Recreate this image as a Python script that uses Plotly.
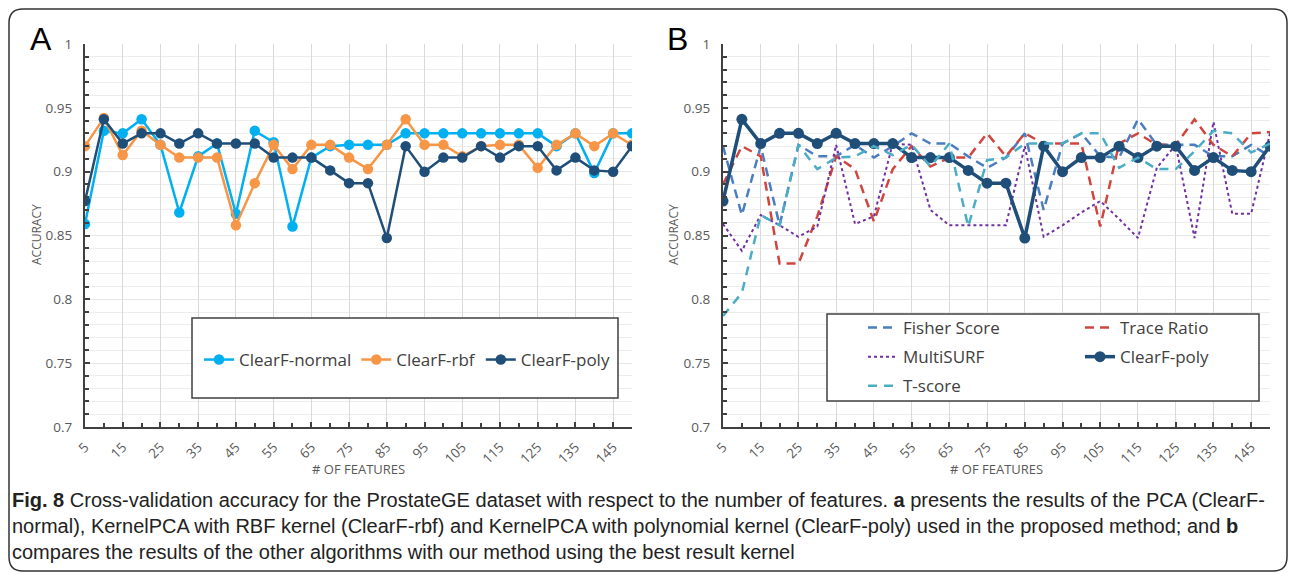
import plotly.graph_objects as go

# ---------------- data ----------------
features = [5, 10, 15, 20, 25, 30, 35, 40, 45, 50, 55, 60, 65, 70, 75,
            80, 85, 90, 95, 100, 105, 110, 115, 120, 125, 130, 135, 140, 145, 150]
tick_vals = [5, 15, 25, 35, 45, 55, 65, 75, 85, 95, 105, 115, 125, 135, 145]
tick_text = ["5", "15", "25", "35", "45", "55", "65", "75", "85", "95",
             "105", "115", "125", "135", "145"]
y_tick_vals = [0.7, 0.75, 0.8, 0.85, 0.9, 0.95, 1.0]
y_tick_text = ["0.7", "0.75", "0.8", "0.85", "0.9", "0.95", "1"]

clearf_normal = [0.859, 0.932, 0.930, 0.941, 0.921, 0.868, 0.912, 0.922, 0.867, 0.932,
                 0.923, 0.857, 0.911, 0.920, 0.921, 0.921, 0.921, 0.930, 0.930, 0.930,
                 0.930, 0.930, 0.930, 0.930, 0.930, 0.920, 0.930, 0.899, 0.930, 0.930]
clearf_rbf = [0.920, 0.942, 0.913, 0.932, 0.921, 0.911, 0.911, 0.911, 0.858, 0.891,
              0.921, 0.902, 0.921, 0.921, 0.911, 0.902, 0.921, 0.941, 0.921, 0.921,
              0.912, 0.920, 0.921, 0.921, 0.903, 0.921, 0.930, 0.920, 0.930, 0.921]
clearf_poly = [0.877, 0.941, 0.922, 0.930, 0.930, 0.922, 0.930, 0.922, 0.922, 0.922,
               0.911, 0.911, 0.911, 0.901, 0.891, 0.891, 0.848, 0.920, 0.900, 0.911,
               0.911, 0.920, 0.911, 0.920, 0.920, 0.901, 0.911, 0.901, 0.900, 0.920]
fisher_score = [0.920, 0.866, 0.920, 0.858, 0.921, 0.912, 0.912, 0.921, 0.911, 0.920,
                0.930, 0.922, 0.922, 0.912, 0.903, 0.911, 0.930, 0.870, 0.922, 0.930,
                0.912, 0.911, 0.941, 0.921, 0.921, 0.921, 0.912, 0.912, 0.921, 0.912]
trace_ratio = [0.890, 0.920, 0.912, 0.828, 0.828, 0.865, 0.912, 0.902, 0.861, 0.902,
               0.920, 0.904, 0.911, 0.911, 0.930, 0.912, 0.930, 0.922, 0.922, 0.922,
               0.857, 0.922, 0.930, 0.921, 0.921, 0.941, 0.921, 0.912, 0.930, 0.931]
multisurf = [0.859, 0.838, 0.866, 0.858, 0.849, 0.857, 0.921, 0.859, 0.865, 0.922,
             0.921, 0.870, 0.858, 0.858, 0.858, 0.858, 0.920, 0.849, 0.858, 0.868,
             0.877, 0.863, 0.848, 0.903, 0.921, 0.848, 0.939, 0.867, 0.867, 0.930]
t_score = [0.787, 0.805, 0.866, 0.858, 0.921, 0.902, 0.911, 0.912, 0.920, 0.913,
           0.921, 0.904, 0.922, 0.857, 0.909, 0.911, 0.922, 0.922, 0.922, 0.930,
           0.930, 0.903, 0.911, 0.902, 0.902, 0.916, 0.932, 0.930, 0.915, 0.922]

caption_lines = [
    "<b>Fig. 8</b> Cross-validation accuracy for the ProstateGE dataset with respect to the number of features. "
    "<b>a</b> presents the results of the PCA (ClearF-",
    "normal), KernelPCA with RBF kernel (ClearF-rbf) and KernelPCA with polynomial kernel (ClearF-poly) "
    "used in the proposed method; and <b>b</b>",
    "compares the results of the other algorithms with our method using the best result kernel",
]

# ---------------- style ----------------
W, H = 1292, 576
FONT = "Open Sans, Noto Sans, sans-serif"
C_NORMAL = "#00b0f0"
C_RBF = "#f79646"
C_POLY = "#1f4e79"
C_FISHER = "#4a7ec0"
C_TRACE = "#d0463f"
C_MULTI = "#7030a0"
C_TSCORE = "#4bacc6"
AX = "#404040"
TXT = "#595959"


def pxx(x):
    return x / W


def pxy(y):
    return 1 - y / H


fig = go.Figure()

# Panel A
for name, vals, col in [("ClearF-normal", clearf_normal, C_NORMAL),
                        ("ClearF-rbf", clearf_rbf, C_RBF),
                        ("ClearF-poly", clearf_poly, C_POLY)]:
    fig.add_trace(go.Scatter(x=features, y=vals, name=name, mode="lines+markers",
                             line=dict(color=col, width=2.5),
                             marker=dict(color=col, size=10.5),
                             xaxis="x", yaxis="y", legend="legend"))

# Panel B
fig.add_trace(go.Scatter(x=features, y=fisher_score, name="Fisher Score", mode="lines",
                         line=dict(color=C_FISHER, width=2.5, dash="9px,6px"),
                         xaxis="x2", yaxis="y2", legend="legend2", legendgroup="g1"))
fig.add_trace(go.Scatter(x=features, y=trace_ratio, name="Trace Ratio", mode="lines",
                         line=dict(color=C_TRACE, width=2.5, dash="9px,6px"),
                         xaxis="x2", yaxis="y2", legend="legend3", legendgroup="g4"))
fig.add_trace(go.Scatter(x=features, y=multisurf, name="MultiSURF", mode="lines",
                         line=dict(color=C_MULTI, width=2, dash="dot"),
                         xaxis="x2", yaxis="y2", legend="legend2", legendgroup="g2"))
fig.add_trace(go.Scatter(x=features, y=clearf_poly, name="ClearF-poly", mode="lines+markers",
                         line=dict(color=C_POLY, width=3.5),
                         marker=dict(color=C_POLY, size=11),
                         xaxis="x2", yaxis="y2", legend="legend3", legendgroup="g5"))
fig.add_trace(go.Scatter(x=features, y=t_score, name="T-score", mode="lines",
                         line=dict(color=C_TSCORE, width=2.5, dash="9px,7px"),
                         xaxis="x2", yaxis="y2", legend="legend2", legendgroup="g3"))


def xaxis_cfg(x0, x1, anchor):
    return dict(domain=[pxx(x0), pxx(x1)], range=[5, 150], anchor=anchor,
                tickmode="array", tickvals=tick_vals, ticktext=tick_text, tickangle=-45,
                tickfont=dict(family=FONT, size=13.5, color=TXT),
                showgrid=True, gridcolor="#d9d9d9", gridwidth=1,
                showline=True, linecolor=AX, linewidth=2,
                ticks="inside", ticklen=5, tickcolor=AX, tickwidth=1.5,
                minor=dict(tickmode="array", tickvals=features, ticks="inside",
                           ticklen=4, tickcolor=AX, showgrid=False),
                ticklabelstandoff=5,
                zeroline=False, automargin=False, fixedrange=True)


def yaxis_cfg(anchor):
    return dict(domain=[pxy(427), pxy(44)], range=[0.7, 1.0], anchor=anchor,
                tickmode="array", tickvals=y_tick_vals, ticktext=y_tick_text,
                tickfont=dict(family=FONT, size=13.5, color=TXT),
                showgrid=True, gridcolor="#e6e6e6", gridwidth=1,
                showline=True, linecolor=AX, linewidth=2,
                ticks="inside", ticklen=5, tickcolor=AX, tickwidth=1.5,
                minor=dict(tick0=0.7, dtick=0.01, ticks="inside", ticklen=4,
                           tickcolor=AX, showgrid=True, gridcolor="#ededed"),
                ticklabelstandoff=8,
                zeroline=False, automargin=False, fixedrange=True)


leg_font = dict(family=FONT, size=17, color=AX)

fig.update_layout(
    width=W, height=H,
    margin=dict(l=0, r=0, t=0, b=0),
    paper_bgcolor="white", plot_bgcolor="white",
    showlegend=True,
    xaxis=xaxis_cfg(85, 632, "y"),
    yaxis=yaxis_cfg("x"),
    xaxis2=xaxis_cfg(723, 1270, "y2"),
    yaxis2=yaxis_cfg("x2"),
    legend=dict(orientation="h", x=pxx(199), y=pxy(342), xanchor="left", yanchor="top",
                font=leg_font, bgcolor="rgba(0,0,0,0)", borderwidth=0, itemclick=False),
    legend2=dict(orientation="v", x=pxx(863), y=pxy(310), xanchor="left", yanchor="top",
                 font=leg_font, bgcolor="rgba(0,0,0,0)", borderwidth=0,
                 tracegroupgap=4, traceorder="grouped"),
    legend3=dict(orientation="v", x=pxx(1080), y=pxy(310), xanchor="left", yanchor="top",
                 font=leg_font, bgcolor="rgba(0,0,0,0)", borderwidth=0,
                 tracegroupgap=4, traceorder="grouped"),
)

# legend frames and the outer figure frame
shapes = [
    dict(type="rect", xref="paper", yref="paper", x0=pxx(192), x1=pxx(618),
         y0=pxy(398), y1=pxy(318), fillcolor="white", line=dict(color=AX, width=1.5),
         layer="above"),
    dict(type="rect", xref="paper", yref="paper", x0=pxx(827), x1=pxx(1259),
         y0=pxy(401), y1=pxy(314), fillcolor="white", line=dict(color=AX, width=1.5),
         layer="above"),
]
r = 14
L, T, R, B = 9, 9, 1287, 571
path = (f"M {pxx(L + r)},{pxy(T)} L {pxx(R - r)},{pxy(T)} Q {pxx(R)},{pxy(T)} {pxx(R)},{pxy(T + r)} "
        f"L {pxx(R)},{pxy(B - r)} Q {pxx(R)},{pxy(B)} {pxx(R - r)},{pxy(B)} "
        f"L {pxx(L + r)},{pxy(B)} Q {pxx(L)},{pxy(B)} {pxx(L)},{pxy(B - r)} "
        f"L {pxx(L)},{pxy(T + r)} Q {pxx(L)},{pxy(T)} {pxx(L + r)},{pxy(T)} Z")
shapes.append(dict(type="path", xref="paper", yref="paper", path=path,
                   line=dict(color="#333333", width=1.5), layer="below"))
fig.update_layout(shapes=shapes)

ann = []
for lbl, x in [("A", 41), ("B", 677)]:
    ann.append(dict(text=lbl, x=pxx(x), y=pxy(39), xref="paper", yref="paper",
                    showarrow=False, xanchor="center", yanchor="middle",
                    font=dict(family="Liberation Sans, Arial, sans-serif", size=32, color="black")))
for x in [36, 673]:
    ann.append(dict(text="ACCURACY", x=pxx(x), y=pxy(235), xref="paper", yref="paper",
                    showarrow=False, textangle=-90, xanchor="center", yanchor="middle",
                    font=dict(family=FONT, size=12, color=TXT)))
for x in [358, 996]:
    ann.append(dict(text="# OF FEATURES", x=pxx(x), y=pxy(469), xref="paper", yref="paper",
                    showarrow=False, xanchor="center", yanchor="middle",
                    font=dict(family=FONT, size=13, color=TXT)))
for i, line in enumerate(caption_lines):
    ann.append(dict(text=line, x=pxx(10), y=pxy(500 + 26 * i), xref="paper", yref="paper",
                    showarrow=False, xanchor="left", yanchor="middle", align="left",
                    font=dict(family="Liberation Sans Narrow, Arial Narrow, sans-serif",
                              size=20, color="#222222")))
fig.update_layout(annotations=ann)

fig.write_html("out.html", config={"displayModeBar": False})
